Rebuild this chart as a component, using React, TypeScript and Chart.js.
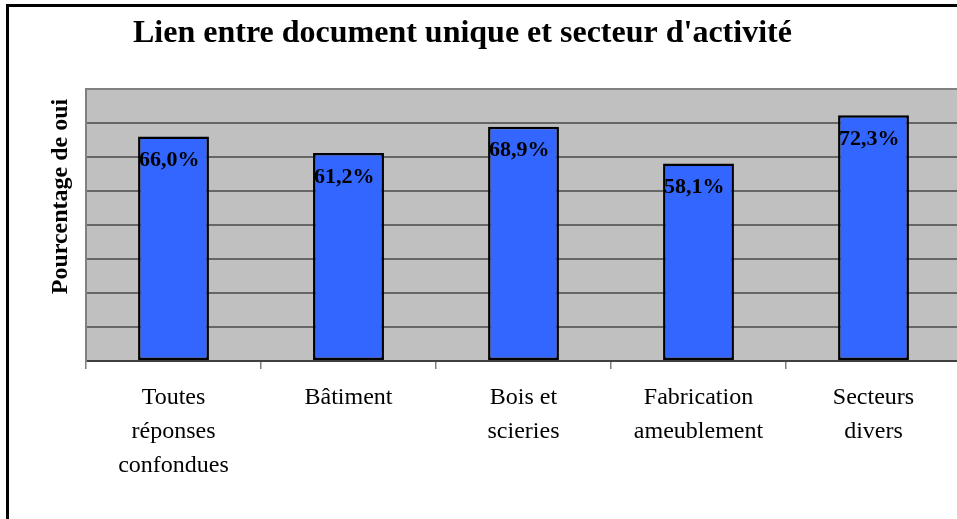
import React, { useEffect, useRef } from "react";
import { Chart, registerables } from "chart.js";

Chart.register(...registerables);

const categories: (string | string[])[] = [
  ["Toutes", "réponses", "confondues"],
  "Bâtiment",
  ["Bois et", "scieries"],
  ["Fabrication", "ameublement"],
  ["Secteurs", "divers"],
];
const values = [66.0, 61.2, 68.9, 58.1, 72.3];
const valueLabels = ["66,0%", "61,2%", "68,9%", "58,1%", "72,3%"];
const yMax = 80;
const yStep = 10;
const chartTitle = "Lien entre document unique et secteur d'activité";
const yTitle = "Pourcentage de oui";

const SERIF = '"Liberation Serif", "Times New Roman", serif';
const CANVAS_W = 990;
const CANVAS_H = 560;

export default function App() {
  const ref = useRef<HTMLCanvasElement | null>(null);

  useEffect(() => {
    if (!ref.current) return;

    const decor = {
      id: "decor",
      beforeDraw(chart: any) {
        const { ctx, chartArea } = chart;
        ctx.save();
        ctx.fillStyle = "#ffffff";
        ctx.fillRect(0, 0, chart.width, chart.height);
        ctx.fillStyle = "#C0C0C0";
        ctx.fillRect(chartArea.left, chartArea.top, chartArea.right - chartArea.left, chartArea.bottom - chartArea.top);
        ctx.strokeStyle = "#000";
        ctx.lineWidth = 3;
        ctx.strokeRect(7.5, 5.5, chart.width + 20, chart.height + 20);
        ctx.restore();
      },
      afterDatasetsDraw(chart: any) {
        const { ctx } = chart;
        const meta = chart.getDatasetMeta(0);
        ctx.save();
        ctx.fillStyle = "#000";
        ctx.font = `bold 22px ${SERIF}`;
        ctx.textAlign = "left";
        ctx.textBaseline = "middle";
        meta.data.forEach((bar: any, i: number) => {
          ctx.fillText(valueLabels[i], bar.x - bar.width / 2 + 1, bar.y + 24);
        });
        ctx.restore();
      },
      afterDraw(chart: any) {
        const { ctx } = chart;
        ctx.save();
        ctx.fillStyle = "#000";
        ctx.font = `bold 32px ${SERIF}`;
        ctx.textAlign = "left";
        ctx.textBaseline = "alphabetic";
        ctx.fillText(chartTitle, 133, 42);
        ctx.translate(61, 196.5);
        ctx.rotate(-Math.PI / 2);
        ctx.font = `bold 24px ${SERIF}`;
        ctx.textAlign = "center";
        ctx.textBaseline = "middle";
        ctx.fillText(yTitle, 0, 0);
        ctx.restore();
      },
    };

    const chart = new Chart(ref.current, {
      type: "bar",
      data: {
        labels: categories,
        datasets: [
          {
            data: values,
            backgroundColor: "#3366FF",
            borderColor: "#000000",
            borderWidth: 2.5,
            borderSkipped: false,
            barPercentage: 0.405,
            categoryPercentage: 1,
          },
        ],
      },
      options: {
        animation: false,
        responsive: false,
        devicePixelRatio: 1,
        layout: { padding: { left: 86, top: 89, right: CANVAS_W - 961, bottom: CANVAS_H - 361 - 130 } },
        plugins: {
          legend: { display: false },
          title: { display: false },
          tooltip: { enabled: false },
        },
        scales: {
          x: {
            afterFit: (scale: any) => {
              scale.height = 130;
            },
            grid: {
              drawOnChartArea: false,
              drawTicks: true,
              tickLength: 8,
              color: "#808080",
              lineWidth: 1.5,
            },
            border: { display: true, color: "#404040", width: 2 },
            ticks: {
              color: "#000",
              padding: 12,
              maxRotation: 0,
              autoSkip: false,
              font: { family: SERIF, size: 24, lineHeight: 1.42 },
            },
          },
          y: {
            min: 0,
            max: yMax,
            afterFit: (scale: any) => {
              scale.width = 0;
            },
            ticks: { display: false, stepSize: yStep },
            grid: {
              drawTicks: false,
              color: (c: any) => (c.tick && c.tick.value === yMax ? "#808080" : "#666666"),
              lineWidth: 2,
            },
            border: { display: true, color: "#808080", width: 2 },
          },
        },
      },
      plugins: [decor],
    });

    return () => chart.destroy();
  }, []);

  return (
    <div
      style={{
        position: "fixed",
        left: 0,
        top: 0,
        width: 957,
        height: 519,
        overflow: "hidden",
        background: "#fff",
      }}
    >
      <canvas ref={ref} width={CANVAS_W} height={CANVAS_H} style={{ width: CANVAS_W, height: CANVAS_H, display: "block" }} />
    </div>
  );
}
